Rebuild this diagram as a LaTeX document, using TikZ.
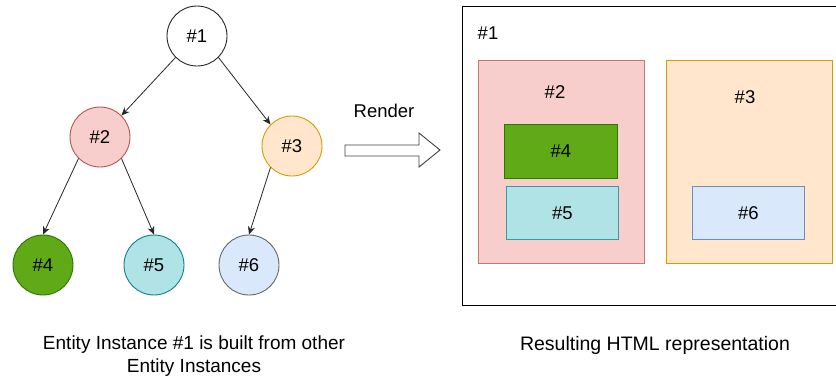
\documentclass[tikz,border=0pt]{standalone}
\usepackage{fontspec}
\setmainfont{Liberation Sans}
\usetikzlibrary{arrows.meta}
\definecolor{redF}{HTML}{F8CECC}\definecolor{redD}{HTML}{B85450}
\definecolor{orF}{HTML}{FFE6CC}\definecolor{orD}{HTML}{D79B00}
\definecolor{grF}{HTML}{60A917}\definecolor{grD}{HTML}{2D7600}
\definecolor{cyF}{HTML}{B0E3E6}\definecolor{cyD}{HTML}{0E8088}
\definecolor{blF}{HTML}{DAE8FC}\definecolor{blD}{HTML}{6C8EBF}
\tikzset{
  txt/.style={font=\fontsize{18.5}{22}\selectfont, text=black, inner sep=0pt},
  ent/.style={circle, minimum size=60pt, inner sep=0pt, line width=0.9pt, font=\fontsize{18.5}{22}\selectfont},
  box/.style={rectangle, inner sep=0pt, line width=0.9pt, font=\fontsize{18.5}{22}\selectfont},
  link/.style={draw=black!85, line width=0.8pt, -{Stealth[length=8pt,width=7pt,inset=2.5pt]}},
}
\begin{document}
\begin{tikzpicture}[x=1pt,y=-1pt]
\useasboundingbox[fill=white] (0,0) rectangle (836,376);
% tree
\node[ent, draw=black!85, fill=white] (n1) at (197,36) {\#1};
\node[ent, draw=redD, fill=redF] (n2) at (100,137) {\#2};
\node[ent, draw=orD, fill=orF] (n3) at (292,146) {\#3};
\node[ent, draw=grD, fill=grF] (n4) at (43,265) {\#4};
\node[ent, draw=cyD, fill=cyF] (n5) at (154,265) {\#5};
\node[ent, draw=black!60, fill=blF] (n6) at (249,265) {\#6};
\draw[link] (n1.south west) -- (n2.north east);
\draw[link] (n1.south east) -- (n3.north west);
\draw[link] (n2.south west) -- (n4.north);
\draw[link] (n2.south east) -- (n5.north);
\draw[link] (n3.south west) -- (n6.north);
% render arrow
\node[txt] (rl) at (384,111) {Render};
\draw[line width=0.9pt, draw=black!75, fill=white] (345,145) -- (419,145) -- (419,133) -- (440,150) -- (419,167) -- (419,156) -- (345,156) -- cycle;
% html representation
\node[box, draw=black, fill=white, minimum width=400pt, minimum height=299pt, anchor=north west] (h1) at (462,6) {};
\node[txt] (h1l) at (488,33) {\#1};
\node[box, draw=redD!80, fill=redF, minimum width=166pt, minimum height=203pt, anchor=north west] (h2) at (478,60) {};
\node[txt] (h2l) at (555,92) {\#2};
\node[box, draw=grD, fill=grF, minimum width=113pt, minimum height=54pt, anchor=north west] (h4) at (504,124) {\#4};
\node[box, draw=cyD!80, fill=cyF, minimum width=112pt, minimum height=53pt, anchor=north west] (h5) at (506,186) {\#5};
\node[box, draw=orD, fill=orF, minimum width=166pt, minimum height=203pt, anchor=north west] (h3) at (666,60) {};
\node[txt] (h3l) at (745,97) {\#3};
\node[box, draw=blD, fill=blF, minimum width=112pt, minimum height=53pt, anchor=north west] (h6) at (692,186) {\#6};
% captions
\node[txt, align=center, font=\fontsize{19}{23}\selectfont] (c1) at (194,356) {Entity Instance \#1 is built from other\\Entity Instances};
\node[txt, font=\fontsize{19.5}{23}\selectfont] (c2) at (655,345) {Resulting HTML representation};
\end{tikzpicture}
\end{document}
